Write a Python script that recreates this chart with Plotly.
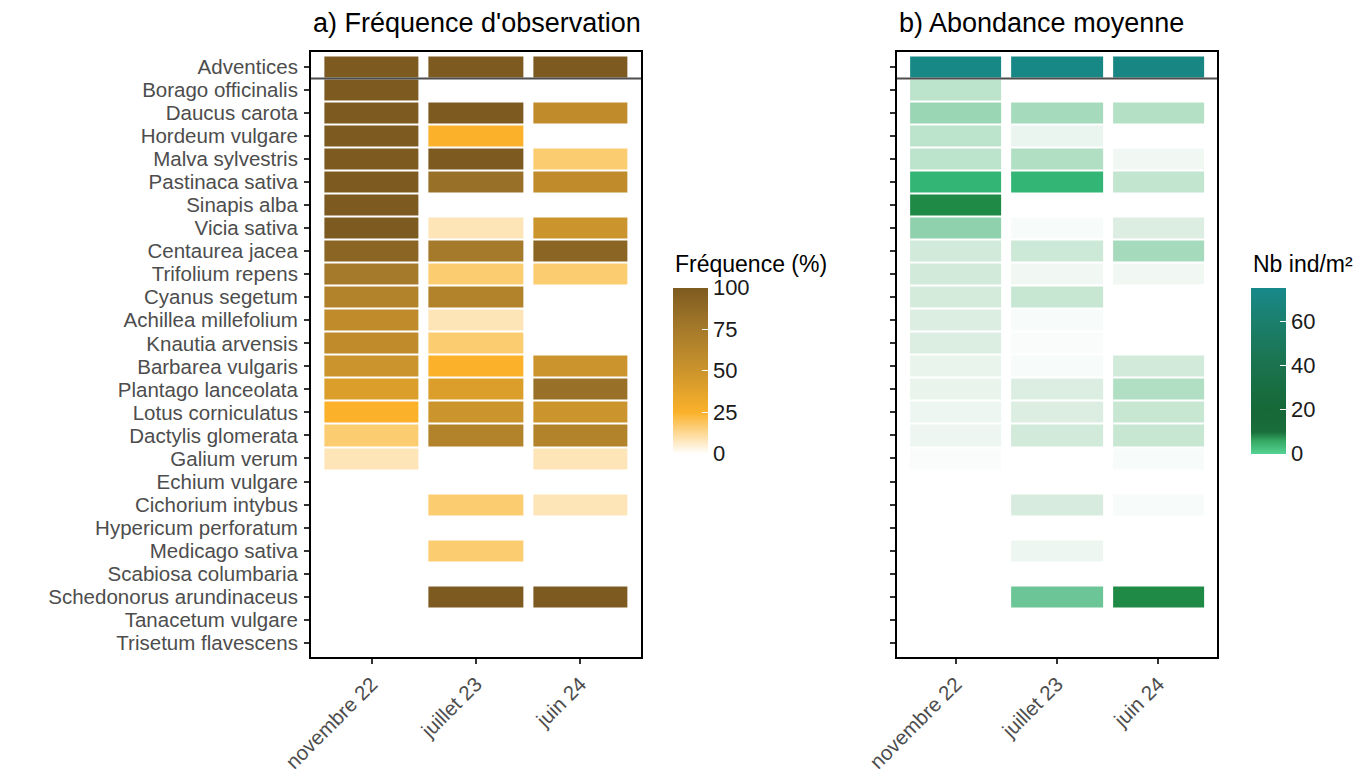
import plotly.graph_objects as go

# ---- data -------------------------------------------------------------
species = [
    "Adventices", "Borago officinalis", "Daucus carota", "Hordeum vulgare",
    "Malva sylvestris", "Pastinaca sativa", "Sinapis alba", "Vicia sativa",
    "Centaurea jacea", "Trifolium repens", "Cyanus segetum",
    "Achillea millefolium", "Knautia arvensis", "Barbarea vulgaris",
    "Plantago lanceolata", "Lotus corniculatus", "Dactylis glomerata",
    "Galium verum", "Echium vulgare", "Cichorium intybus",
    "Hypericum perforatum", "Medicago sativa", "Scabiosa columbaria",
    "Schedonorus arundinaceus", "Tanacetum vulgare", "Trisetum flavescens",
]
dates = ["novembre 22", "juillet 23", "juin 24"]
N = None

# observation frequency (%) per survey
freq_nov22 = [100, 100, 100, 100, 100, 100, 100, 100, 91.7, 75, 66.7, 58.3, 58.3,
              50, 41.7, 25, 16.7, 8.3, N, N, N, N, N, N, N, N]
freq_jul23 = [100, N, 100, 25, 100, 83.3, N, 8.3, 75, 16.7, 66.7, 8.3, 16.7,
              25, 41.7, 50, 66.7, N, N, 16.7, N, 16.7, N, 100, N, N]
freq_jun24 = [100, N, 58.3, N, 16.7, 58.3, N, 50, 91.7, 16.7, N, N, N,
              50, 83.3, 50, 66.7, 8.3, N, 8.3, N, N, N, 100, N, N]

# mean abundance (individuals per m²) per survey
abund_nov22 = [74, 2.2, 3.4, 2.2, 2.2, 7, 12, 3.8, 1.4, 1.4, 1.3, 1.0, 1.0,
               0.6, 0.6, 0.4, 0.4, 0.03, N, N, N, N, N, N, N, N]
abund_jul23 = [74, N, 3.0, 0.5, 2.6, 7, N, 0.1, 1.6, 0.3, 1.8, 0.1, 0.03,
               0.1, 1.0, 1.0, 1.4, N, N, 1.2, N, 0.4, N, 5, N, N]
abund_jun24 = [73, N, 2.5, N, 0.3, 2.0, N, 1.0, 3.0, 0.3, N, N, N,
               1.4, 2.6, 1.8, 1.8, 0.1, N, 0.1, N, N, N, 12, N, N]

freq_ticks = [0, 25, 50, 75, 100]
abund_ticks = [0, 20, 40, 60]
ABUND_MAX = 75.5

# ---- styling ------------------------------------------------------------
FONT = "Liberation Sans, Arial, sans-serif"
AXIS_TEXT = 20.5
W, H = 1370, 772
freq_scale = [
    [0.0, "#FFFFFF"], [0.25, "#FBB22A"], [0.5, "#CC942C"],
    [0.75, "#A57A2A"], [1.0, "#7D5B20"],
]


def stops(pairs):
    return [[v / ABUND_MAX, c] for v, c in pairs]


# tile fill for abundance cells
abund_cell_scale = stops([
    (0, "#FAFCFB"), (1, "#DCEEE2"), (2.2, "#BCE3CB"), (4, "#8ACFA9"),
    (5, "#6CC596"), (7, "#33B575"), (12, "#1F8A45"), (20, "#176A38"),
    (50, "#1B7450"), (ABUND_MAX, "#18898A"),
])
# gradient shown in the abundance legend bar
abund_legend_scale = stops([
    (0, "#55D394"), (6, "#35A862"), (10, "#1A6E3A"), (20, "#166836"),
    (42, "#1B7450"), (60, "#1B7F6C"), (ABUND_MAX, "#18898A"),
])


def cols(*series):
    return [list(row) for row in zip(*series)]


def colorbar(x_px, ticks):
    return dict(
        x=x_px / W, xanchor="left", xpad=0, ypad=0,
        y=1 - 370.5 / H, yanchor="middle",
        len=166, lenmode="pixels", thickness=35, outlinewidth=0,
        tickvals=ticks, ticks="inside", ticklen=6, tickcolor="white",
        tickfont=dict(family=FONT, size=22, color="#1A1A1A"),
    )


fig = go.Figure()

fig.add_trace(go.Heatmap(
    x=dates, y=species, z=cols(freq_nov22, freq_jul23, freq_jun24),
    xaxis="x", yaxis="y", zmin=0, zmax=100, colorscale=freq_scale,
    xgap=10, ygap=2, hoverongaps=False,
    colorbar=colorbar(673, freq_ticks),
))

fig.add_trace(go.Heatmap(
    x=dates, y=species, z=cols(abund_nov22, abund_jul23, abund_jun24),
    xaxis="x2", yaxis="y2", zmin=0, zmax=ABUND_MAX,
    colorscale=abund_cell_scale, showscale=False,
    xgap=10, ygap=2, hoverongaps=False,
))

# legend bar for the abundance panel
fig.add_trace(go.Scatter(
    x=[dates[0]], y=[species[-1]], xaxis="x2", yaxis="y2", mode="markers",
    hoverinfo="skip", showlegend=False,
    marker=dict(
        size=1, opacity=0, color=[0], cmin=0, cmax=ABUND_MAX,
        colorscale=abund_legend_scale, showscale=True,
        colorbar=colorbar(1251, abund_ticks),
    ),
))

y_top = 1 - 52 / H
y_bot = 1 - 657 / H

xaxis_common = dict(
    range=[-0.58, 2.58], showgrid=False, zeroline=False,
    showline=True, mirror=True, linecolor="black", linewidth=2,
    ticks="outside", ticklen=5, tickwidth=1.5, tickcolor="#333333",
    tickmode="linear", tick0=0, dtick=1,
    tickangle=-45, tickfont=dict(family=FONT, size=AXIS_TEXT, color="#4D4D4D"),
    automargin=False,
)
yaxis_common = dict(
    range=[25.62, -0.65], showgrid=False, zeroline=False,
    showline=True, mirror=True, linecolor="black", linewidth=2,
    ticks="outside", ticklen=5, tickwidth=1.5, tickcolor="#333333",
    tickmode="linear", tick0=0, dtick=1,
    tickfont=dict(family=FONT, size=AXIS_TEXT, color="#4D4D4D"),
    categoryorder="array", categoryarray=species, domain=[y_bot, y_top],
    automargin=False,
)


def header(text, x_px, y_px, size):
    return dict(text=text, xref="paper", yref="paper",
                x=x_px / W, y=1 - y_px / H, xanchor="left", yanchor="middle",
                showarrow=False, font=dict(family=FONT, size=size, color="black"))


fig.update_layout(
    width=W, height=H,
    margin=dict(l=0, r=0, t=0, b=0, autoexpand=False),
    paper_bgcolor="white", plot_bgcolor="white",
    xaxis=dict(xaxis_common, domain=[311 / W, 641 / W], anchor="y"),
    yaxis=dict(yaxis_common, anchor="x", ticklabelstandoff=2),
    xaxis2=dict(xaxis_common, domain=[897 / W, 1217 / W], anchor="y2"),
    yaxis2=dict(yaxis_common, anchor="x2", showticklabels=False),
    showlegend=False,
    shapes=[
        dict(type="line", xref="x domain", yref="y", x0=0, x1=1, y0=0.5, y1=0.5,
             line=dict(color="#4D4D4D", width=2)),
        dict(type="line", xref="x2 domain", yref="y2", x0=0, x1=1, y0=0.5, y1=0.5,
             line=dict(color="#4D4D4D", width=2)),
    ],
    annotations=[
        header("a) Fréquence d'observation", 311, 23, 27),
        header("b) Abondance moyenne", 897, 23, 27),
        header("Fréquence (%)", 673, 264, 23),
        header("Nb ind/m²", 1251, 264, 23),
    ],
)

fig.write_html("out.html")
